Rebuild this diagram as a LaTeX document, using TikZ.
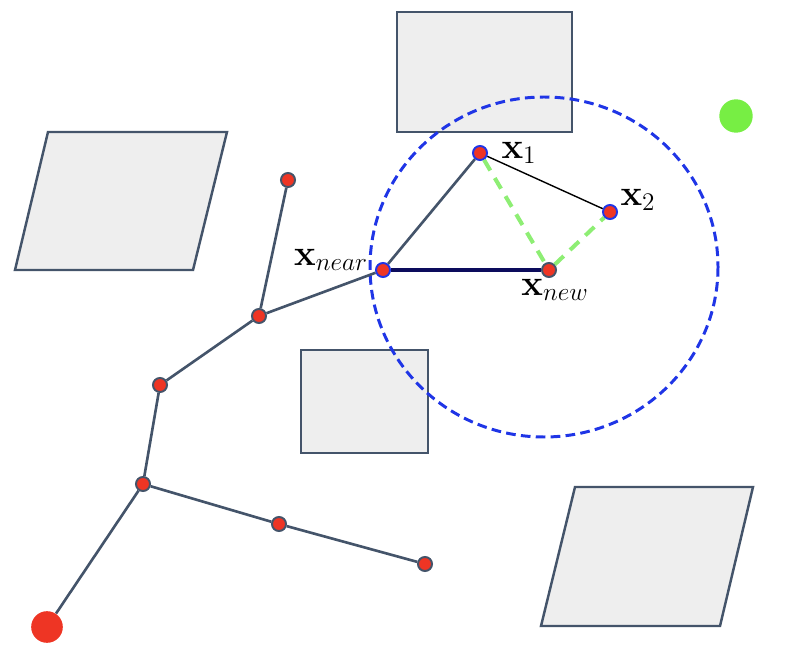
\documentclass[tikz,border=0pt]{standalone}
\usepackage{amsmath}
\definecolor{slate}{HTML}{44546A}
\definecolor{dotred}{HTML}{EE3524}
\definecolor{ringblue}{HTML}{1F35E6}
\definecolor{navy}{HTML}{0C0C5C}
\definecolor{lightgreen}{HTML}{8EEE74}
\definecolor{goalgreen}{HTML}{77EE44}
\definecolor{obst}{HTML}{EEEEEE}
\tikzset{
    obstacle/.style={fill=obst, draw=slate, line width=1.4pt},
    dot/.style={circle, fill=dotred, draw=slate, line width=1.1pt, inner sep=0pt, minimum size=8pt},
    bluedot/.style={dot, draw=ringblue},
    edge/.style={draw=slate, line width=1.5pt},
    lbl/.style={font=\huge, inner sep=0pt}
}
\begin{document}
\begin{tikzpicture}[x=0.02cm, y=-0.02cm]
    \useasboundingbox (0,0) rectangle (790,668);
    % obstacles
    \draw[obstacle] (397,12) rectangle (572,132);
    \draw[obstacle] (48,132) -- (227,132) -- (193,270) -- (15,270) -- cycle;
    \draw[obstacle] (301,350) rectangle (428,453);
    \draw[obstacle] (575,487) -- (753,487) -- (720,626) -- (541,626) -- cycle;
    % goal and search ball
    \node[circle, fill=goalgreen, inner sep=0pt, minimum size=19pt] (goal) at (736,116) {};
    \draw[ringblue, line width=1.7pt, dash pattern=on 5.5pt off 3pt] (544,267) ellipse [x radius=174, y radius=170];
    % tree
    \node[circle, fill=dotred, inner sep=0pt, minimum size=18pt] (start) at (47,627) {};
    \node[dot] (n1) at (143,484) {};
    \node[dot] (n2) at (160,385) {};
    \node[dot] (n3) at (259,316) {};
    \node[dot] (n4) at (288,180) {};
    \node[dot] (n5) at (279,524) {};
    \node[dot] (n6) at (425,564) {};
    \node[bluedot] (xnear) at (383,270) {};
    \node[bluedot] (x1) at (480,153) {};
    \node[bluedot] (x2) at (610,212) {};
    \node[dot] (xnew) at (549,270) {};
    \draw[edge] (start) -- (n1) -- (n2) -- (n3) -- (n4);
    \draw[edge] (n3) -- (xnear);
    \draw[edge] (n1) -- (n5) -- (n6);
    \draw[edge] (xnear) -- (x1);
    \draw[navy, line width=1.8pt] (xnear) -- (xnew);
    \draw[black, line width=0.8pt] (x1) -- (x2);
    \draw[lightgreen, line width=2.3pt, dash pattern=on 7pt off 5pt] (x1) -- (xnew) -- (x2);
    % labels
    \node[lbl] (lx1) at (519,153) {$\mathbf{x}_1$};
    \node[lbl] (lx2) at (638,200) {$\mathbf{x}_2$};
    \node[lbl] (lnear) at (331,260) {$\mathbf{x}_{near}$};
    \node[lbl] (lnew) at (555,290) {$\mathbf{x}_{new}$};
\end{tikzpicture}
\end{document}
